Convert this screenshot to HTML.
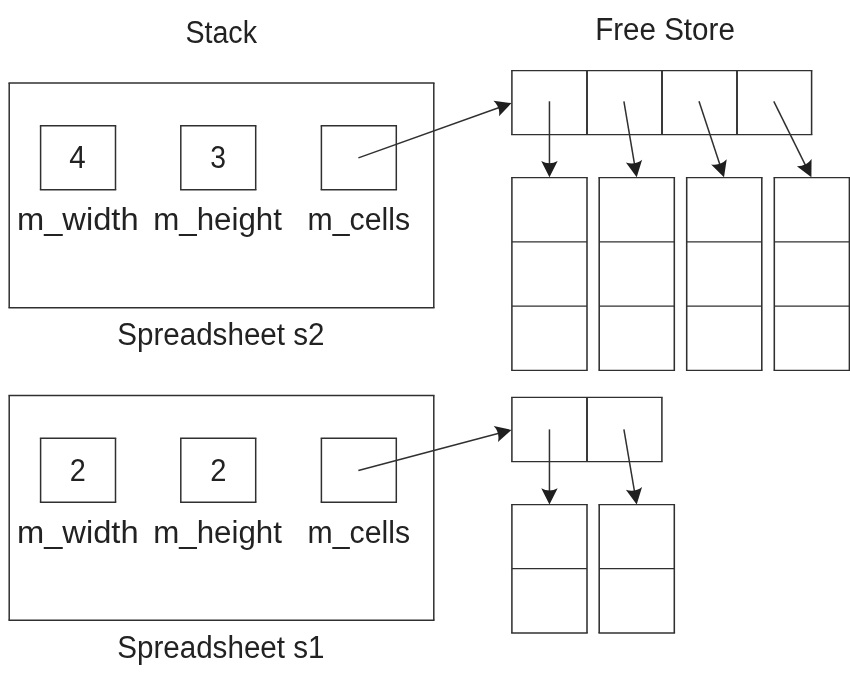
<!DOCTYPE html>
<html lang="en"><head><meta charset="utf-8"><title>Stack and Free Store</title>
<style>
html,body{margin:0;padding:0;background:#fff;}
body{width:850px;height:685px;overflow:hidden;}
svg{display:block;will-change:transform;}
text{font-family:"Liberation Sans",sans-serif;fill:#222;}
.l{fill:none;stroke:#303030;}
.a{fill:#1f1f1f;stroke:none;}
</style></head><body>
<svg width="850" height="685" viewBox="0 0 850 685">
<rect width="850" height="685" fill="#fff"/>
<text id="Stack" x="185.38" y="42.9" font-size="30.8" textLength="71.62" lengthAdjust="spacingAndGlyphs">Stack</text>
<text id="Free" x="595.13" y="40.0" font-size="30.8" textLength="139.71" lengthAdjust="spacingAndGlyphs">Free Store</text>
<line class="l" x1="8.45" y1="83.0" x2="434.55" y2="83.0" stroke-width="1.5"/>
<line class="l" x1="8.45" y1="307.8" x2="434.55" y2="307.8" stroke-width="1.5"/>
<line class="l" x1="9.2" y1="83.0" x2="9.2" y2="307.8" stroke-width="1.5"/>
<line class="l" x1="433.8" y1="83.0" x2="433.8" y2="307.8" stroke-width="1.5"/>
<line class="l" x1="39.85" y1="125.85" x2="116.25" y2="125.85" stroke-width="1.5"/>
<line class="l" x1="39.85" y1="189.8" x2="116.25" y2="189.8" stroke-width="1.5"/>
<line class="l" x1="40.6" y1="125.85" x2="40.6" y2="189.8" stroke-width="1.5"/>
<line class="l" x1="115.5" y1="125.85" x2="115.5" y2="189.8" stroke-width="1.5"/>
<line class="l" x1="180.05" y1="125.85" x2="256.45" y2="125.85" stroke-width="1.5"/>
<line class="l" x1="180.05" y1="189.8" x2="256.45" y2="189.8" stroke-width="1.5"/>
<line class="l" x1="180.8" y1="125.85" x2="180.8" y2="189.8" stroke-width="1.5"/>
<line class="l" x1="255.7" y1="125.85" x2="255.7" y2="189.8" stroke-width="1.5"/>
<line class="l" x1="320.65" y1="125.85" x2="397.05" y2="125.85" stroke-width="1.5"/>
<line class="l" x1="320.65" y1="189.8" x2="397.05" y2="189.8" stroke-width="1.5"/>
<line class="l" x1="321.4" y1="125.85" x2="321.4" y2="189.8" stroke-width="1.5"/>
<line class="l" x1="396.3" y1="125.85" x2="396.3" y2="189.8" stroke-width="1.5"/>
<text id="d4" x="69.35" y="168.1" font-size="30.8" textLength="16.44" lengthAdjust="spacingAndGlyphs">4</text>
<text id="d3" x="210.17" y="168.1" font-size="30.8" textLength="15.73" lengthAdjust="spacingAndGlyphs">3</text>
<text id="mw" x="16.93" y="230.4" font-size="30.8" textLength="121.64" lengthAdjust="spacingAndGlyphs">m_width</text>
<text id="mh" x="153.26" y="230.4" font-size="30.8" textLength="128.64" lengthAdjust="spacingAndGlyphs">m_height</text>
<text id="mc" x="307.58" y="230.4" font-size="30.8" textLength="102.45" lengthAdjust="spacingAndGlyphs">m_cells</text>
<text id="ss2" x="117.18" y="345.4" font-size="30.8" textLength="207.34" lengthAdjust="spacingAndGlyphs">Spreadsheet s2</text>
<line class="l" x1="8.45" y1="395.5" x2="434.55" y2="395.5" stroke-width="1.5"/>
<line class="l" x1="8.45" y1="620.3" x2="434.55" y2="620.3" stroke-width="1.5"/>
<line class="l" x1="9.2" y1="395.5" x2="9.2" y2="620.3" stroke-width="1.5"/>
<line class="l" x1="433.8" y1="395.5" x2="433.8" y2="620.3" stroke-width="1.5"/>
<line class="l" x1="39.85" y1="438.35" x2="116.25" y2="438.35" stroke-width="1.5"/>
<line class="l" x1="39.85" y1="502.3" x2="116.25" y2="502.3" stroke-width="1.5"/>
<line class="l" x1="40.6" y1="438.35" x2="40.6" y2="502.3" stroke-width="1.5"/>
<line class="l" x1="115.5" y1="438.35" x2="115.5" y2="502.3" stroke-width="1.5"/>
<line class="l" x1="180.05" y1="438.35" x2="256.45" y2="438.35" stroke-width="1.5"/>
<line class="l" x1="180.05" y1="502.3" x2="256.45" y2="502.3" stroke-width="1.5"/>
<line class="l" x1="180.8" y1="438.35" x2="180.8" y2="502.3" stroke-width="1.5"/>
<line class="l" x1="255.7" y1="438.35" x2="255.7" y2="502.3" stroke-width="1.5"/>
<line class="l" x1="320.65" y1="438.35" x2="397.05" y2="438.35" stroke-width="1.5"/>
<line class="l" x1="320.65" y1="502.3" x2="397.05" y2="502.3" stroke-width="1.5"/>
<line class="l" x1="321.4" y1="438.35" x2="321.4" y2="502.3" stroke-width="1.5"/>
<line class="l" x1="396.3" y1="438.35" x2="396.3" y2="502.3" stroke-width="1.5"/>
<text id="d2a" x="69.85" y="480.6" font-size="30.8" textLength="16.04" lengthAdjust="spacingAndGlyphs">2</text>
<text id="d2b" x="210.19" y="480.6" font-size="30.8" textLength="16.21" lengthAdjust="spacingAndGlyphs">2</text>
<text id="mw1" x="16.93" y="542.9" font-size="30.8" textLength="121.64" lengthAdjust="spacingAndGlyphs">m_width</text>
<text id="mh1" x="153.26" y="542.9" font-size="30.8" textLength="128.64" lengthAdjust="spacingAndGlyphs">m_height</text>
<text id="mc1" x="307.58" y="542.9" font-size="30.8" textLength="102.45" lengthAdjust="spacingAndGlyphs">m_cells</text>
<text id="ss1" x="117.18" y="657.8" font-size="30.8" textLength="207.34" lengthAdjust="spacingAndGlyphs">Spreadsheet s1</text>
<line class="l" x1="511.12" y1="70.6" x2="812.38" y2="70.6" stroke-width="1.3"/>
<line class="l" x1="511.12" y1="134.7" x2="812.38" y2="134.7" stroke-width="1.3"/>
<line class="l" x1="511.9" y1="70.6" x2="511.9" y2="134.7" stroke-width="1.55"/>
<line class="l" x1="811.6" y1="70.6" x2="811.6" y2="134.7" stroke-width="1.55"/>
<line class="l" x1="587.0" y1="70.6" x2="587.0" y2="134.7" stroke-width="1.9"/>
<line class="l" x1="662.0" y1="70.6" x2="662.0" y2="134.7" stroke-width="1.9"/>
<line class="l" x1="737.0" y1="70.6" x2="737.0" y2="134.7" stroke-width="1.9"/>
<line class="l" x1="511.12" y1="177.55" x2="587.77" y2="177.55" stroke-width="1.3"/>
<line class="l" x1="511.12" y1="370.3" x2="587.77" y2="370.3" stroke-width="1.3"/>
<line class="l" x1="511.9" y1="177.55" x2="511.9" y2="370.3" stroke-width="1.55"/>
<line class="l" x1="587.0" y1="177.55" x2="587.0" y2="370.3" stroke-width="1.55"/>
<line class="l" x1="511.9" y1="241.95" x2="587.0" y2="241.95" stroke-width="1.3"/>
<line class="l" x1="511.9" y1="306.2" x2="587.0" y2="306.2" stroke-width="1.3"/>
<line class="l" x1="598.43" y1="177.55" x2="675.08" y2="177.55" stroke-width="1.3"/>
<line class="l" x1="598.43" y1="370.3" x2="675.08" y2="370.3" stroke-width="1.3"/>
<line class="l" x1="599.2" y1="177.55" x2="599.2" y2="370.3" stroke-width="1.55"/>
<line class="l" x1="674.3" y1="177.55" x2="674.3" y2="370.3" stroke-width="1.55"/>
<line class="l" x1="599.2" y1="241.95" x2="674.3" y2="241.95" stroke-width="1.3"/>
<line class="l" x1="599.2" y1="306.2" x2="674.3" y2="306.2" stroke-width="1.3"/>
<line class="l" x1="685.93" y1="177.55" x2="762.58" y2="177.55" stroke-width="1.3"/>
<line class="l" x1="685.93" y1="370.3" x2="762.58" y2="370.3" stroke-width="1.3"/>
<line class="l" x1="686.7" y1="177.55" x2="686.7" y2="370.3" stroke-width="1.55"/>
<line class="l" x1="761.8" y1="177.55" x2="761.8" y2="370.3" stroke-width="1.55"/>
<line class="l" x1="686.7" y1="241.95" x2="761.8" y2="241.95" stroke-width="1.3"/>
<line class="l" x1="686.7" y1="306.2" x2="761.8" y2="306.2" stroke-width="1.3"/>
<line class="l" x1="773.52" y1="177.55" x2="850.17" y2="177.55" stroke-width="1.3"/>
<line class="l" x1="773.52" y1="370.3" x2="850.17" y2="370.3" stroke-width="1.3"/>
<line class="l" x1="774.3" y1="177.55" x2="774.3" y2="370.3" stroke-width="1.55"/>
<line class="l" x1="849.4" y1="177.55" x2="849.4" y2="370.3" stroke-width="1.55"/>
<line class="l" x1="774.3" y1="241.95" x2="849.4" y2="241.95" stroke-width="1.3"/>
<line class="l" x1="774.3" y1="306.2" x2="849.4" y2="306.2" stroke-width="1.3"/>
<line class="l" x1="549.45" y1="101.3" x2="549.45" y2="164.2" stroke-width="1.5"/>
<path class="a" d="M549.45 177.2 L541.25 161.0 Q549.45 165.4 557.65 161.0 Z"/>
<line class="l" x1="623.9" y1="101.3" x2="634.54" y2="164.38" stroke-width="1.5"/>
<path class="a" d="M636.7 177.2 L625.92 162.59 Q634.74 165.56 642.09 159.86 Z"/>
<line class="l" x1="699.0" y1="101.3" x2="719.93" y2="164.85" stroke-width="1.5"/>
<path class="a" d="M724.0 177.2 L711.14 164.38 Q720.31 165.99 726.72 159.25 Z"/>
<line class="l" x1="773.8" y1="101.3" x2="805.63" y2="165.55" stroke-width="1.5"/>
<path class="a" d="M811.4 177.2 L796.86 166.32 Q806.16 166.63 811.56 159.04 Z"/>
<line class="l" x1="358.4" y1="157.9" x2="499.26" y2="107.48" stroke-width="1.5"/>
<path class="a" d="M511.5 103.1 L499.01 116.28 Q500.39 107.08 493.48 100.84 Z"/>
<line class="l" x1="511.12" y1="397.4" x2="662.67" y2="397.4" stroke-width="1.3"/>
<line class="l" x1="511.12" y1="461.6" x2="662.67" y2="461.6" stroke-width="1.3"/>
<line class="l" x1="511.9" y1="397.4" x2="511.9" y2="461.6" stroke-width="1.55"/>
<line class="l" x1="661.9" y1="397.4" x2="661.9" y2="461.6" stroke-width="1.55"/>
<line class="l" x1="587.0" y1="397.4" x2="587.0" y2="461.6" stroke-width="1.9"/>
<line class="l" x1="511.12" y1="504.6" x2="587.77" y2="504.6" stroke-width="1.3"/>
<line class="l" x1="511.12" y1="633.0" x2="587.77" y2="633.0" stroke-width="1.3"/>
<line class="l" x1="511.9" y1="504.6" x2="511.9" y2="633.0" stroke-width="1.55"/>
<line class="l" x1="587.0" y1="504.6" x2="587.0" y2="633.0" stroke-width="1.55"/>
<line class="l" x1="511.9" y1="568.65" x2="587.0" y2="568.65" stroke-width="1.3"/>
<line class="l" x1="598.43" y1="504.6" x2="675.08" y2="504.6" stroke-width="1.3"/>
<line class="l" x1="598.43" y1="633.0" x2="675.08" y2="633.0" stroke-width="1.3"/>
<line class="l" x1="599.2" y1="504.6" x2="599.2" y2="633.0" stroke-width="1.55"/>
<line class="l" x1="674.3" y1="504.6" x2="674.3" y2="633.0" stroke-width="1.55"/>
<line class="l" x1="599.2" y1="568.65" x2="674.3" y2="568.65" stroke-width="1.3"/>
<line class="l" x1="549.45" y1="429.4" x2="549.45" y2="491.4" stroke-width="1.5"/>
<path class="a" d="M549.45 504.4 L541.25 488.2 Q549.45 492.6 557.65 488.2 Z"/>
<line class="l" x1="623.9" y1="429.4" x2="634.51" y2="491.59" stroke-width="1.5"/>
<path class="a" d="M636.7 504.4 L625.89 489.81 Q634.71 492.77 642.06 487.05 Z"/>
<line class="l" x1="358.4" y1="470.4" x2="498.93" y2="433.22" stroke-width="1.5"/>
<path class="a" d="M511.5 429.9 L497.94 441.97 Q500.09 432.92 493.74 426.12 Z"/>
</svg></body></html>
